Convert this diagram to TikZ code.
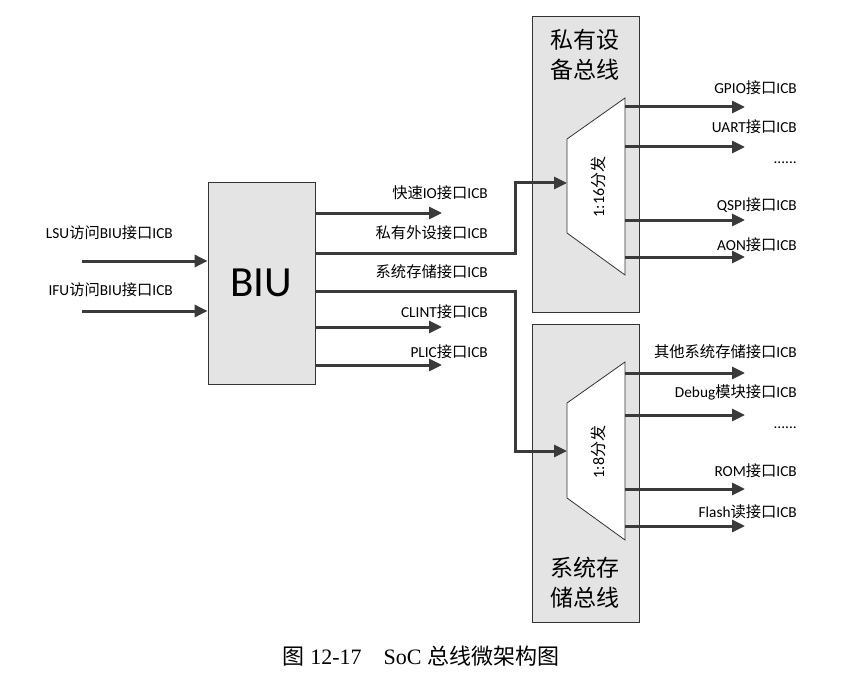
\documentclass[tikz,border=0pt]{standalone}
\usepackage{fontspec}
\setmainfont{Carlito}
\newfontfamily\cjk{Noto Sans CJK SC}
\newfontfamily\capser{Liberation Serif}
\usetikzlibrary{arrows.meta}
\definecolor{arrgray}{HTML}{3A3A3A}
\definecolor{boxgray}{HTML}{E4E4E4}
\tikzset{
  arr/.style={draw=arrgray, line width=3pt, -{Triangle[length=13pt,width=12pt]}},
  busbox/.style={draw=black!80, line width=0.8pt, fill=boxgray},
  lbl/.style={font=\fontsize{15.3}{17}\selectfont, inner sep=0pt},
  bustitle/.style={font=\cjk\fontsize{23}{30}\selectfont, align=center, inner sep=0pt},
  muxtxt/.style={font=\fontsize{16}{18}\selectfont, rotate=90, inner sep=0pt}
}
\begin{document}
\begin{tikzpicture}[x=1pt,y=-1pt]
\useasboundingbox[fill=white] (0,0) rectangle (849,682);
% BIU
\node[busbox, minimum width=107pt, minimum height=202pt, inner sep=0pt,
      font=\fontsize{43}{46}\selectfont] (biu) at (261.5,283) {BIU};
% bus boxes
\node[busbox, minimum width=107pt, minimum height=296pt] (pbus) at (585.5,164) {};
\node[busbox, minimum width=107pt, minimum height=298pt] (sbus) at (585.5,473) {};
\node[bustitle] (ptitle) at (585,55) {私有设\\备总线};
\node[bustitle] (stitle) at (585,583) {系统存\\储总线};
% trapezoids
\draw[draw=black!80, line width=0.8pt, fill=white] (567,139) -- (625,98) -- (625,275) -- (567,233) -- cycle;
\draw[draw=black!80, line width=0.8pt, fill=white] (567,403) -- (625,362) -- (625,540) -- (567,498) -- cycle;
\coordinate (m16in) at (567,183);
\coordinate (m8in) at (567,451);
\node[muxtxt] (m16) at (598,187) {1:16{\cjk 分发}};
\node[muxtxt] (m8) at (598,452) {1:8{\cjk 分发}};
% inputs
\coordinate (lsuS) at (82,261);
\coordinate (ifuS) at (82,311);
\draw[arr] (lsuS) -- (lsuS -| biu.west);
\draw[arr] (ifuS) -- (ifuS -| biu.west);
\node[lbl, anchor=east] (lsul) at (173,233) {LSU{\cjk 访问}BIU{\cjk 接口}ICB};
\node[lbl, anchor=east] (iful) at (173,290) {IFU{\cjk 访问}BIU{\cjk 接口}ICB};
% BIU outputs
\coordinate (fio) at (442,213);
\coordinate (clint) at (442,327);
\coordinate (plic) at (442,365);
\draw[arr] (biu.east |- fio) -- (fio);
\draw[arr] (biu.east |- clint) -- (clint);
\draw[arr] (biu.east |- plic) -- (plic);
\coordinate (pA) at (515,253);
\coordinate (sA) at (515,291);
\draw[arr] (biu.east |- pA) -- (pA) |- (m16in);
\draw[arr] (biu.east |- sA) -- (sA) |- (m8in);
\node[lbl, anchor=east] (fiol) at (488,193) {{\cjk 快速}IO{\cjk 接口}ICB};
\node[lbl, anchor=east] (pl) at (488,233) {{\cjk 私有外设接口}ICB};
\node[lbl, anchor=east] (sl) at (488,272) {{\cjk 系统存储接口}ICB};
\node[lbl, anchor=east] (cl) at (488,312) {CLINT{\cjk 接口}ICB};
\node[lbl, anchor=east] (pll) at (488,352) {PLIC{\cjk 接口}ICB};
% private bus outputs
\coordinate (o1) at (745,107);
\coordinate (o2) at (745,147);
\coordinate (o3) at (745,220);
\coordinate (o4) at (745,257);
\foreach \o in {o1,o2,o3,o4} \draw[arr] (625,0 |- \o) -- (\o);
\node[lbl, anchor=east] (gl) at (797,88) {GPIO{\cjk 接口}ICB};
\node[lbl, anchor=east] (ul) at (797,127) {UART{\cjk 接口}ICB};
\node[lbl, anchor=east] (d1) at (797,163) {......};
\node[lbl, anchor=east] (ql) at (797,205) {QSPI{\cjk 接口}ICB};
\node[lbl, anchor=east] (al) at (797,245) {AON{\cjk 接口}ICB};
% system bus outputs
\coordinate (s1) at (745,373);
\coordinate (s2) at (745,415);
\coordinate (s3) at (745,489);
\coordinate (s4) at (745,526);
\foreach \o in {s1,s2,s3,s4} \draw[arr] (625,0 |- \o) -- (\o);
\node[lbl, anchor=east] (ol) at (797,352) {{\cjk 其他系统存储接口}ICB};
\node[lbl, anchor=east] (dl) at (797,392) {Debug{\cjk 模块接口}ICB};
\node[lbl, anchor=east] (d2) at (797,428) {......};
\node[lbl, anchor=east] (rl) at (797,471) {ROM{\cjk 接口}ICB};
\node[lbl, anchor=east] (fl) at (797,512) {Flash{\cjk 读接口}ICB};
% caption
\node[inner sep=0pt, font=\fontsize{22}{24}\selectfont] (cap) at (421,656)
  {{\cjk 图}\capser{} 12-17\hspace{1em}SoC {\cjk 总线微架构图}};
\end{tikzpicture}
\end{document}
